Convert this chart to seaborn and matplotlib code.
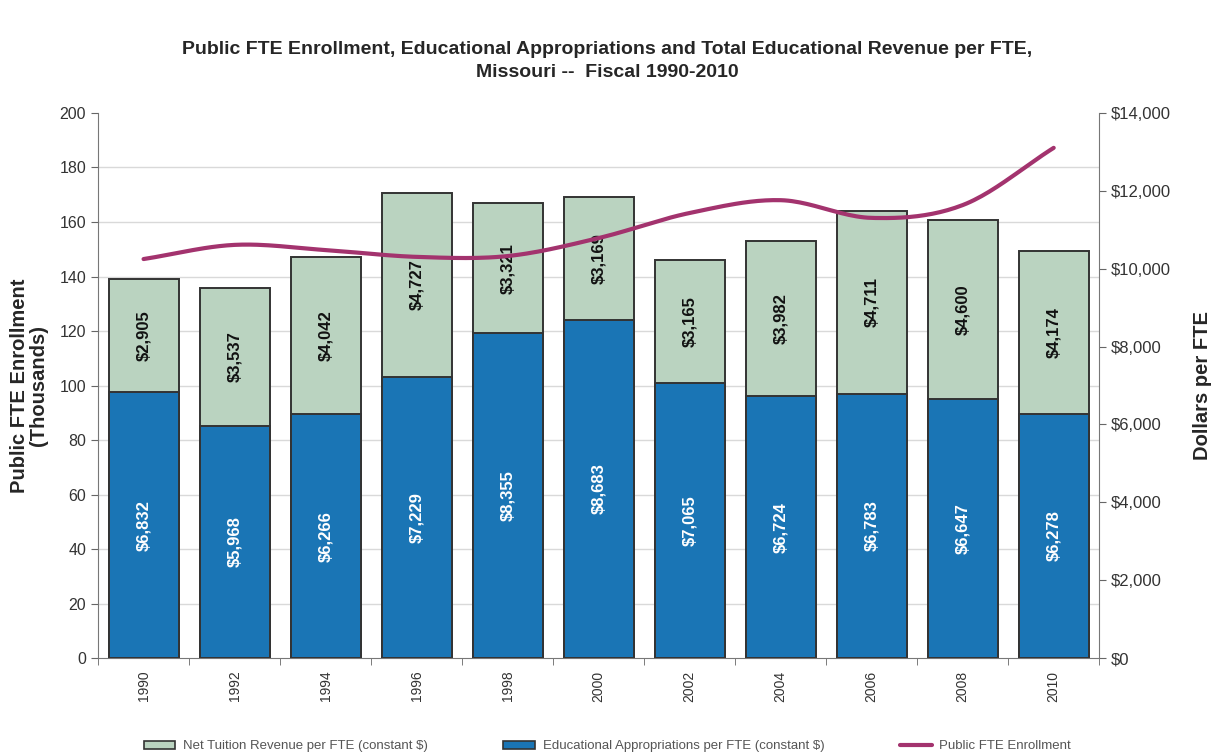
import numpy as np
import pandas as pd
import matplotlib
matplotlib.use("Agg")
import matplotlib.pyplot as plt
import seaborn as sns
from matplotlib.patches import Patch
from matplotlib.lines import Line2D

# ---- data ----
years = ['1990', '1992', '1994', '1996', '1998', '2000', '2002', '2004', '2006', '2008', '2010']
approp = [6832, 5968, 6266, 7229, 8355, 8683, 7065, 6724, 6783, 6647, 6278]
tuition = [2905, 3537, 4042, 4727, 3321, 3169, 3165, 3982, 4711, 4600, 4174]
enroll = [146.4, 151.6, 149.7, 147.2, 147.5, 154.1, 163.3, 168.0, 161.5, 166.2, 187.2]

sns.set_style("white")
plt.rcParams['font.family'] = ['Liberation Sans', 'DejaVu Sans']

c_tuition = '#BAD3C0'
c_approp = '#1A75B5'
c_line = '#A3336E'
c_edge = '#333333'
c_tick = '#333333'

df = pd.DataFrame({'year': years, 'approp': approp, 'tuition': tuition})
df['total'] = df['approp'] + df['tuition']

fig = plt.figure(figsize=(12.15, 7.53), dpi=100)
ax = fig.add_axes([0.0807, 0.126, 0.824, 0.724])

# stacked bars on the dollar scale
sns.barplot(data=df, x='year', y='total', color=c_tuition, width=0.77,
            edgecolor=c_edge, linewidth=1.4, saturation=1, ax=ax, zorder=2)
sns.barplot(data=df, x='year', y='approp', color=c_approp, width=0.77,
            edgecolor=c_edge, linewidth=1.4, saturation=1, ax=ax, zorder=3)

# value labels inside segments
for i in range(len(years)):
    ax.text(i, approp[i] / 2, f'${approp[i]:,}', rotation=90, ha='center', va='center',
            color='white', fontsize=12, fontweight='bold', zorder=5)
    ax.text(i, approp[i] + tuition[i] / 2, f'${tuition[i]:,}', rotation=90, ha='center',
            va='center', color='#111111', fontsize=12, fontweight='bold', zorder=5)

# enrollment line on its own scale (left)
ax2 = ax.twinx()

ax.set_ylim(0, 14000)
ax.set_xlim(-0.5, len(years) - 0.5)
ax.set_yticks(np.arange(0, 14001, 2000))
ax.set_yticklabels([f'${v:,.0f}' for v in np.arange(0, 14001, 2000)])
# gridlines follow the left (enrollment) ticks, drawn behind the bars
ax.set_yticks(np.arange(0, 14001, 1400), minor=True)
ax.yaxis.tick_right()
ax.yaxis.set_label_position('right')
ax.set_ylabel('Dollars per FTE', fontsize=14.5, fontweight='bold', labelpad=16)
ax.set_xlabel('')
ax.grid(False)
ax.grid(axis='y', which='minor', color='#d9d9d9', linewidth=1, zorder=0)
ax.set_axisbelow(True)
ax.set_xticks(np.arange(-0.5, len(years), 1.0), minor=True)
ax.tick_params(axis='x', which='major', rotation=90, labelsize=10, length=0, pad=9,
               labelcolor=c_tick)
ax.tick_params(axis='x', which='minor', length=5, direction='out', color='#666666', bottom=True)
ax.tick_params(axis='y', which='major', labelsize=12, length=5, direction='out', color='#666666',
               right=True, left=False, labelright=True, labelleft=False, labelcolor=c_tick)
ax.tick_params(axis='y', which='minor', length=0)
for s in ['top', 'left']:
    ax.spines[s].set_visible(False)
for s in ['bottom', 'right']:
    ax.spines[s].set_color('#777777')

ax2.set_ylim(0, 200)
ax2.yaxis.tick_left()
ax2.yaxis.set_label_position('left')
ax2.set_yticks(np.arange(0, 201, 20))
ax2.tick_params(axis='y', labelsize=11.5, length=5, direction='out', color='#666666',
                left=True, right=False, labelleft=True, labelright=False, labelcolor=c_tick)
ax2.set_ylabel('Public FTE Enrollment\n(Thousands)', fontsize=14.5, fontweight='bold', labelpad=8,
               linespacing=1.0)
for s in ['top', 'right', 'bottom']:
    ax2.spines[s].set_visible(False)
ax2.spines['left'].set_color('#777777')

# smoothed line (catmull-rom, like excel's smoothing)
xs = np.arange(len(enroll), dtype=float)
ys = np.array(enroll)
px = np.concatenate([[2 * xs[0] - xs[1]], xs, [2 * xs[-1] - xs[-2]]])
py = np.concatenate([[2 * ys[0] - ys[1]], ys, [2 * ys[-1] - ys[-2]]])
sx, sy = [], []
t = np.linspace(0, 1, 25)
for i in range(1, len(px) - 2):
    for arr, out in ((px, sx), (py, sy)):
        p0, p1, p2, p3 = arr[i - 1], arr[i], arr[i + 1], arr[i + 2]
        out.extend(0.5 * (2 * p1 + (-p0 + p2) * t + (2 * p0 - 5 * p1 + 4 * p2 - p3) * t ** 2
                          + (-p0 + 3 * p1 - 3 * p2 + p3) * t ** 3))
sns.lineplot(x=sx, y=sy, color=c_line, linewidth=3, ax=ax2, sort=False, zorder=6)

fig.suptitle('Public FTE Enrollment, Educational Appropriations and Total Educational Revenue per FTE,\n'
             'Missouri --  Fiscal 1990-2010', fontsize=14, fontweight='bold', y=0.946,
             linespacing=1.45)

handles = [Patch(facecolor=c_tuition, edgecolor=c_edge, linewidth=1.2),
           Patch(facecolor=c_approp, edgecolor=c_edge, linewidth=1.2),
           Line2D([0], [0], color=c_line, linewidth=3)]
labels = ['Net Tuition Revenue per FTE (constant $)',
          'Educational Appropriations per FTE (constant $)',
          'Public FTE Enrollment']
fig.legend(handles, labels, loc='lower center', bbox_to_anchor=(0.5, -0.015), ncol=3,
           frameon=False, fontsize=9.5, columnspacing=5.7, handlelength=2.4, handleheight=0.6,
           handletextpad=0.6, labelcolor='#555555')

fig.savefig('out.png', dpi=100)
